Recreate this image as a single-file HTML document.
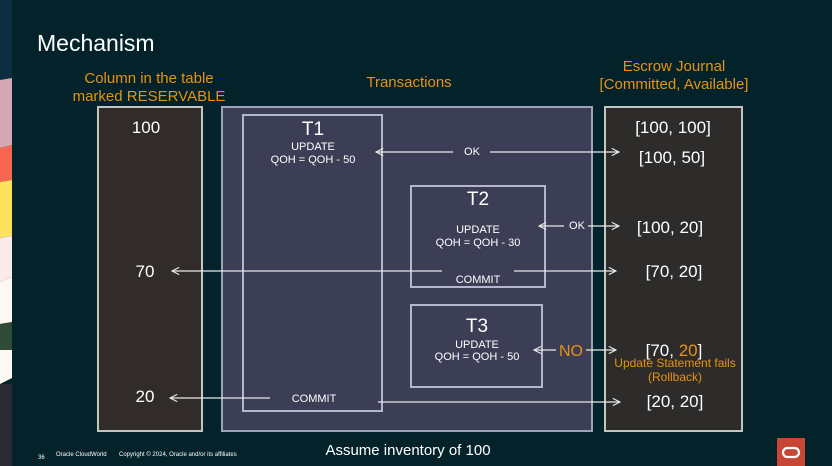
<!DOCTYPE html>
<html><head><style>
html,body{margin:0;padding:0;background:#03222a;width:832px;height:466px;overflow:hidden}
svg{display:block;font-family:"Liberation Sans",sans-serif}
</style></head><body>
<svg width="832" height="466" viewBox="0 0 832 466" xmlns="http://www.w3.org/2000/svg">
<defs>
<marker id="a" viewBox="0 0 10 10" refX="9" refY="5" markerWidth="9" markerHeight="9" orient="auto-start-reverse" markerUnits="userSpaceOnUse">
<path d="M1,1 L9,5 L1,9" fill="none" stroke="#e8e8e8" stroke-width="1.3"/></marker>
</defs>
<rect width="832" height="466" fill="#03222a"/>
<!-- left strip -->
<rect x="0" y="0" width="12" height="82" fill="#0c2d42"/>
<polygon points="0,80 12,78 12,145 0,148" fill="#d6a8b6"/>
<polygon points="0,148 12,145 12,180 0,182" fill="#f66650"/>
<polygon points="0,182 12,180 12,236 0,238" fill="#fbe15c"/>
<polygon points="0,238 12,236 12,277 0,282" fill="#fbeaec"/>
<polygon points="0,282 12,277 12,322 0,324" fill="#fdf8f2"/>
<polygon points="0,324 12,322 12,350 0,350" fill="#2f4a36"/>
<polygon points="0,350 12,350 12,378 0,384" fill="#fdf8f2"/>
<rect x="0" y="384" width="12" height="82" fill="#2a2a33"/>
<text x="37" y="51" font-size="23" fill="#ffffff">Mechanism</text>
<text x="149" y="83" font-size="15" fill="#e8930f" text-anchor="middle">Column in the table</text>
<text x="149" y="101" font-size="15" fill="#e8930f" text-anchor="middle">marked RESERVABLE</text>
<text x="409" y="87" font-size="15" fill="#e8930f" text-anchor="middle">Transactions</text>
<text x="674" y="71" font-size="15" fill="#e8930f" text-anchor="middle">Escrow Journal</text>
<text x="674" y="89" font-size="15" fill="#e8930f" text-anchor="middle">[Committed, Available]</text>
<rect x="98" y="107" width="104" height="324" fill="#312c29" stroke="#c4c4c0" stroke-width="2"/>
<rect x="222" y="107" width="370" height="324" fill="#3c3e56" stroke="#a0a2ba" stroke-width="2"/>
<rect x="605" y="107" width="137" height="324" fill="#2e2c2a" stroke="#c4c4c0" stroke-width="2"/>
<rect x="243" y="115" width="139" height="296" fill="none" stroke="#b4b6cc" stroke-width="2"/>
<rect x="411" y="186" width="134" height="101" fill="none" stroke="#b4b6cc" stroke-width="2"/>
<rect x="411" y="305" width="131" height="82" fill="none" stroke="#b4b6cc" stroke-width="2"/>
<g fill="#ffffff">
<text x="146" y="133" font-size="17" text-anchor="middle">100</text>
<text x="145" y="277" font-size="17" text-anchor="middle">70</text>
<text x="145" y="402" font-size="17" text-anchor="middle">20</text>
<text x="313" y="135" font-size="19" text-anchor="middle">T1</text>
<text x="313" y="150" font-size="11" text-anchor="middle">UPDATE</text>
<text x="313" y="163" font-size="11" text-anchor="middle">QOH = QOH - 50</text>
<text x="478" y="205" font-size="19" text-anchor="middle">T2</text>
<text x="478" y="233" font-size="11" text-anchor="middle">UPDATE</text>
<text x="478" y="246" font-size="11" text-anchor="middle">QOH = QOH - 30</text>
<text x="478" y="283" font-size="11" text-anchor="middle">COMMIT</text>
<text x="477" y="332" font-size="19" text-anchor="middle">T3</text>
<text x="477" y="348" font-size="11" text-anchor="middle">UPDATE</text>
<text x="477" y="360" font-size="11" text-anchor="middle">QOH = QOH - 50</text>
<text x="314" y="402" font-size="11" text-anchor="middle">COMMIT</text>
<text x="472" y="155" font-size="11" text-anchor="middle">OK</text>
<text x="577" y="229" font-size="11" text-anchor="middle">OK</text>
<text x="673" y="133" font-size="17" text-anchor="middle">[100, 100]</text>
<text x="672" y="163" font-size="17" text-anchor="middle">[100, 50]</text>
<text x="670" y="233" font-size="17" text-anchor="middle">[100, 20]</text>
<text x="674" y="277" font-size="17" text-anchor="middle">[70, 20]</text>
<text x="674" y="356" font-size="17" text-anchor="middle">[70, <tspan fill="#e8930f">20</tspan>]</text>
<text x="675" y="407" font-size="17" text-anchor="middle">[20, 20]</text>
<text x="408" y="455" font-size="15" text-anchor="middle">Assume inventory of 100</text>
</g>
<text x="571" y="356" font-size="16" fill="#e8930f" text-anchor="middle">NO</text>
<text x="675" y="367" font-size="12" fill="#e8930f" text-anchor="middle">Update Statement fails</text>
<text x="675" y="381" font-size="12" fill="#e8930f" text-anchor="middle">(Rollback)</text>
<g stroke="#e8e8e8" stroke-width="1.3" fill="none">
<line x1="453" y1="152" x2="376" y2="152" marker-end="url(#a)"/>
<line x1="490" y1="152" x2="619" y2="152" marker-end="url(#a)"/>
<line x1="564" y1="226" x2="539" y2="226" marker-end="url(#a)"/>
<line x1="588" y1="226" x2="619" y2="226" marker-end="url(#a)"/>
<line x1="442" y1="271" x2="172" y2="271" marker-end="url(#a)"/>
<line x1="514" y1="271" x2="616" y2="271" marker-end="url(#a)"/>
<line x1="556" y1="350" x2="534" y2="350" marker-end="url(#a)"/>
<line x1="586" y1="350" x2="616" y2="350" marker-end="url(#a)"/>
<line x1="270" y1="398" x2="170" y2="398" marker-end="url(#a)"/>
<line x1="378" y1="402" x2="620" y2="402" marker-end="url(#a)"/>
</g>
<text x="38" y="459" font-size="6" fill="#ffffff">36</text>
<text x="56" y="456" font-size="6" fill="#ffffff">Oracle CloudWorld</text>
<text x="119" y="456" font-size="6" fill="#ffffff">Copyright © 2024, Oracle and/or its affiliates</text>
<rect x="777" y="438" width="28" height="28" fill="#c74634"/>
<rect x="783" y="448" width="16" height="9" rx="4.5" fill="none" stroke="#ffffff" stroke-width="2.2"/>
</svg>
</body></html>
